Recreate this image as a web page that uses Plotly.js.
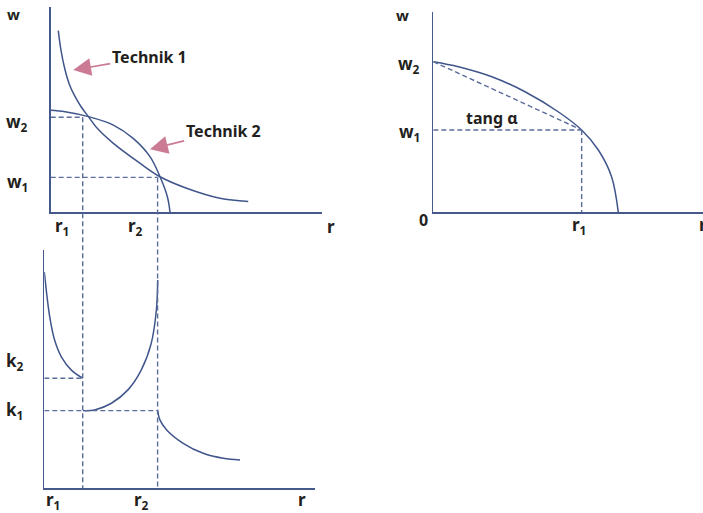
<!DOCTYPE html>
<html>
<head>
<meta charset="utf-8">
<script src="https://cdn.plot.ly/plotly-3.0.1.min.js"></script>
<style>
  html, body { margin: 0; padding: 0; background: #ffffff; }
  #chart { width: 703px; height: 513px; }
</style>
</head>
<body>
<div id="chart"></div>
<script>
// ---- Wage–profit frontiers of two techniques (upper left) ----
const tech1_r = [0.28, 0.38, 0.53, 0.70, 0.90, 1.12, 1.39, 1.75, 2.31, 3.29, 4.03, 5.01, 6.24, 7.28];
const tech1_w = [8.85, 7.89, 6.93, 6.19, 5.63, 5.14, 4.66, 4.04, 3.36, 2.39, 1.73, 1.17, 0.68, 0.52];
const tech2_r = [0.00, 0.53, 1.39, 2.31, 3.04, 3.66, 4.03, 4.30, 4.40];
const tech2_w = [4.97, 4.90, 4.66, 4.25, 3.60, 2.71, 1.73, 0.76, 0.00];
// switch points
const switch_r = [1.18, 3.94];   // r1, r2
const switch_w = [4.63, 1.70];   // w2, w1

// ---- Single frontier with the tangent (upper right) ----
const front_r = [0.00, 0.93, 2.17, 3.40, 4.63, 5.50, 6.12, 6.61, 6.86];
const front_w = [7.52, 7.27, 6.77, 6.02, 5.02, 4.11, 3.11, 1.78, 0.00];
const front_r1 = 5.50;
const front_w1 = 4.11;
const front_w2 = 7.52;

// ---- Capital per worker along the frontier (lower left) ----
const capA_r = [0.00, 0.20, 0.38, 0.63, 1.00, 1.42];
const capA_k = [9.08, 7.20, 6.22, 5.52, 4.96, 4.62];
const capB_r = [1.43, 1.86, 2.48, 3.09, 3.58, 3.95, 4.14, 4.19];
const capB_k = [3.26, 3.29, 3.57, 4.13, 4.96, 6.08, 7.48, 8.74];
const capC_r = [4.19, 4.27, 4.52, 5.13, 5.87, 6.61, 7.23];
const capC_k = [3.26, 2.87, 2.45, 1.89, 1.47, 1.26, 1.19];
const cap_r = [1.42, 4.19];      // r1, r2 on the lower axis
const cap_k = [4.62, 3.26];      // k2, k1

// ---- Styling ----
const W = 703, H = 513;
const CURVE = '#3f558b';
const AXIS = '#46598d';
const DASH = '#5a6c9a';
const ARROW = '#cc7b94';
const INK = '#231f20';
const DASHPAT = '5px,3px';
const FONT = 'Noto Sans';

const px = x => x / W;
const py = y => 1 - y / H;

// panel frames in pixels
const P1 = { x0: 50.7, x1: 322, top: 7, bot: 212.3 };
const P2 = { x0: 433.3, x1: 703, top: 12, bot: 212.3 };
const P3 = { x0: 44.3, x1: 315, top: 250, bot: 488.3 };
const RANGE = [0, 10];

function axis(dom, anchor) {
  return {
    domain: dom, range: RANGE, anchor: anchor,
    showline: true, linecolor: AXIS, linewidth: 1.5,
    showgrid: false, zeroline: false, showticklabels: false,
    ticks: '', fixedrange: true
  };
}

function curve(x, y, xa, ya) {
  return { x: x, y: y, xaxis: xa, yaxis: ya, type: 'scatter', mode: 'lines',
           line: { color: CURVE, width: 1.5, shape: 'spline', smoothing: 1 },
           hoverinfo: 'skip' };
}
function dashed(x, y, xa, ya) {
  return { x: x, y: y, xaxis: xa, yaxis: ya, type: 'scatter', mode: 'lines',
           line: { color: DASH, width: 1.4, dash: DASHPAT },
           hoverinfo: 'skip' };
}

const traces = [
  curve(tech1_r, tech1_w, 'x', 'y'),
  curve(tech2_r, tech2_w, 'x', 'y'),
  dashed([0, switch_r[0]], [switch_w[0], switch_w[0]], 'x', 'y'),
  dashed([0, switch_r[1]], [switch_w[1], switch_w[1]], 'x', 'y'),

  curve(front_r, front_w, 'x2', 'y2'),
  dashed([0, front_r1], [front_w2, front_w1], 'x2', 'y2'),
  dashed([0, front_r1], [front_w1, front_w1], 'x2', 'y2'),
  dashed([front_r1, front_r1], [front_w1, 0], 'x2', 'y2'),

  curve(capA_r, capA_k, 'x3', 'y3'),
  curve(capB_r, capB_k, 'x3', 'y3'),
  curve(capC_r, capC_k, 'x3', 'y3'),
  dashed([0, cap_r[0]], [cap_k[0], cap_k[0]], 'x3', 'y3'),
  dashed([0, cap_r[1]], [cap_k[1], cap_k[1]], 'x3', 'y3')
];

const yDom1 = [py(P1.bot), py(P1.top)];
const yDom3 = [py(P3.bot), py(P3.top)];
// paper height of a value on the upper-left w axis
const wToPaper = v => yDom1[0] + (v - RANGE[0]) / (RANGE[1] - RANGE[0]) * (yDom1[1] - yDom1[0]);

// r1 and r2 drop from the upper frontiers down to the lower r axis
const shapes = switch_r.map((r, i) => ({
  type: 'line', xref: 'x', yref: 'paper',
  x0: r, x1: r, y0: wToPaper(switch_w[i]), y1: yDom3[0],
  line: { color: DASH, width: 1.4, dash: DASHPAT }
}));

function label(text, x, y, size, xanchor) {
  return { text: text, xref: 'paper', yref: 'paper', x: px(x), y: py(y),
           xanchor: xanchor || 'center', yanchor: 'middle', showarrow: false,
           font: { family: FONT, size: size, color: INK, weight: 700 } };
}
function pointer(text, r, w, ax, ay) {
  return { text: text, xref: 'x', yref: 'y', x: r, y: w, ax: ax, ay: ay,
           showarrow: true, arrowhead: 2, arrowsize: 2.1, arrowwidth: 1.7,
           arrowcolor: ARROW, standoff: 0,
           font: { family: FONT, size: 16, color: INK, weight: 700 } };
}

const annotations = [
  // upper left
  label('w', 13, 14, 15),
  label('w<sub>2</sub>', 17, 122, 17),
  label('w<sub>1</sub>', 17, 182, 17),
  label('r<sub>1</sub>', 62, 227, 17),
  label('r<sub>2</sub>', 135, 227, 17),
  label('r', 331, 226, 17),
  pointer('Technik 1', 0.83, 6.93, 76, -13),
  pointer('Technik 2', 3.66, 3.07, 73, -18),
  // upper right
  label('w', 402, 15, 15),
  label('w<sub>2</sub>', 409, 64, 17),
  label('w<sub>1</sub>', 409, 132, 17),
  label('tang α', 492, 118, 16),
  label('0', 423, 220, 16),
  label('r<sub>1</sub>', 579, 225, 17),
  label('r', 697, 224, 17, 'left'),
  // lower left
  label('k<sub>2</sub>', 15, 361, 17),
  label('k<sub>1</sub>', 15, 410, 17),
  label('r<sub>1</sub>', 53, 500, 17),
  label('r<sub>2</sub>', 141, 500, 17),
  label('r', 302, 499, 17)
];

const layout = {
  width: W, height: H,
  margin: { l: 0, r: 0, t: 0, b: 0, pad: 0 },
  paper_bgcolor: '#ffffff', plot_bgcolor: 'rgba(0,0,0,0)',
  showlegend: false,
  font: { family: FONT, color: INK },
  xaxis: axis([px(P1.x0), px(P1.x1)], 'y'),
  yaxis: axis(yDom1, 'x'),
  xaxis2: axis([px(P2.x0), px(P2.x1)], 'y2'),
  yaxis2: axis([py(P2.bot), py(P2.top)], 'x2'),
  xaxis3: axis([px(P3.x0), px(P3.x1)], 'y3'),
  yaxis3: axis(yDom3, 'x3'),
  shapes: shapes,
  annotations: annotations
};

Plotly.newPlot('chart', traces, layout, { staticPlot: true, displayModeBar: false });
</script>
</body>
</html>
